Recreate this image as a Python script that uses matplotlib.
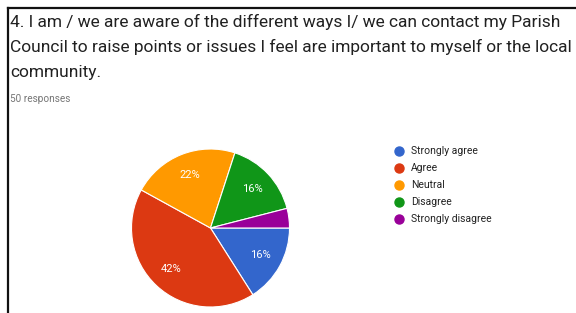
import matplotlib
matplotlib.use("Agg")
import matplotlib.pyplot as plt
from matplotlib.lines import Line2D

categories = ["Strongly agree", "Agree", "Neutral", "Disagree", "Strongly disagree"]
counts = [8, 21, 11, 8, 2]
colors = ["#3366cc", "#dc3912", "#ff9900", "#109618", "#990099"]
title_lines = ["4. I am / we are aware of the different ways I/ we can contact my Parish",
               "Council to raise points or issues I feel are important to myself or the local",
               "community."]
subtitle = "50 responses"

W, H = 576, 313
fig = plt.figure(figsize=(W / 100, H / 100), dpi=100)
fig.patch.set_facecolor("white")

# border lines (top and left)
fig.add_artist(Line2D([8 / W, 1.0], [1 - 8 / H, 1 - 8 / H], transform=fig.transFigure,
                      color="#111111", linewidth=1.6))
fig.add_artist(Line2D([8 / W, 8 / W], [0.0, 1 - 8 / H], transform=fig.transFigure,
                      color="#111111", linewidth=1.6))

# title
ys = [22, 47, 72]
for line, y in zip(title_lines, ys):
    fig.text(10 / W, 1 - y / H, line, fontsize=12.5, family="Roboto", color="#212121",
             va="center", ha="left")
fig.text(10 / W, 1 - 99 / H, subtitle, fontsize=7.2, family="Roboto", color="#757575",
         va="center", ha="left")

# pie
cx, cy, r = 210.5, 228, 79
ax = fig.add_axes([(cx - r) / W, (H - cy - r) / H, 2 * r / W, 2 * r / H])
def fmt(p):
    return f"{p:.0f}%" if p >= 5 else ""
wedges, texts, autotexts = ax.pie(counts, colors=colors, startangle=0, counterclock=False,
                                  autopct=fmt, pctdistance=0.72,
                                  wedgeprops=dict(edgecolor="white", linewidth=0.8),
                                  textprops=dict(color="white", fontsize=8, family="Roboto"))
for w in wedges:
    w.set_clip_on(False)
ax.set_xlim(-1, 1)
ax.set_ylim(-1, 1)
ax.set_aspect("equal")
ax.axis("off")

# legend
lx, ly0, dy = 399, 151, 17
for i, (c, lab) in enumerate(zip(colors, categories)):
    y = ly0 + i * dy
    fig.add_artist(Line2D([lx / W], [1 - y / H], marker="o", markersize=6.5,
                          markerfacecolor=c, markeredgecolor=c, linestyle="none",
                          transform=fig.transFigure))
    fig.text((lx + 12) / W, 1 - y / H, lab, fontsize=7.5, family="Roboto", color="#222222",
             va="center", ha="left")

fig.savefig("out.png", dpi=100)
